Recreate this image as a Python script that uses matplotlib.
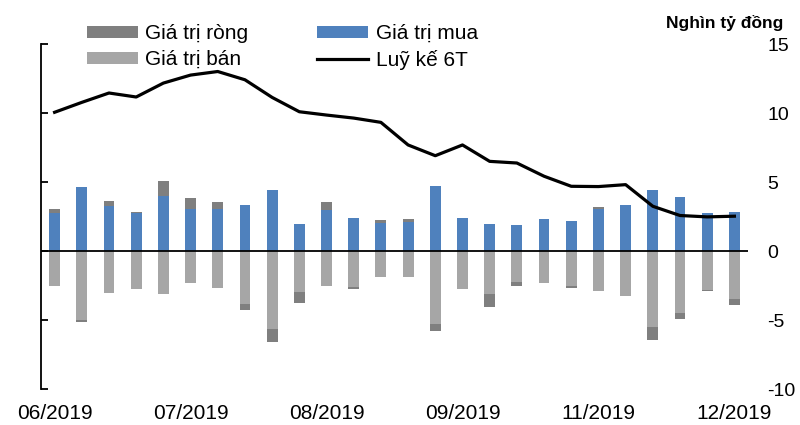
import matplotlib
matplotlib.use('Agg')
import matplotlib.pyplot as plt
import numpy as np

plt.rcParams['font.family'] = ['Liberation Sans', 'DejaVu Sans']
plt.rcParams['axes.unicode_minus'] = False

# weekly values, nghìn tỷ đồng
buy = [2.78, 4.69, 3.31, 2.78, 4.01, 3.07, 3.04, 3.33, 4.47, 1.98, 3.00, 2.39, 2.03,
       2.10, 4.71, 2.42, 2.00, 1.88, 2.32, 2.22, 3.04, 3.33, 4.42, 3.94, 2.78, 2.83]
sell = [-2.56, -4.98, -3.04, -2.73, -3.07, -2.32, -2.68, -3.86, -5.65, -2.95, -2.56, -2.61, -1.86,
        -1.84, -5.31, -2.71, -3.14, -2.27, -2.34, -2.56, -2.90, -3.24, -5.51, -4.52, -2.83, -3.50]
net = [0.29, -0.15, 0.36, 0.05, 1.06, 0.82, 0.51, -0.39, -0.94, -0.80, 0.56, -0.12, 0.24,
       0.27, -0.48, -0.05, -0.94, -0.22, 0.00, -0.10, 0.17, 0.05, -0.97, -0.43, -0.05, -0.43]
cum_6t = [10.08, 10.8, 11.48, 11.19, 12.2, 12.78, 13.04, 12.44, 11.16, 10.12, 9.88, 9.66, 9.35,
          7.71, 6.93, 7.71, 6.52, 6.4, 5.44, 4.71, 4.69, 4.83, 3.26, 2.59, 2.49, 2.54]
month_labels = ['06/2019', '07/2019', '08/2019', '09/2019', '11/2019', '12/2019']
month_pos = [0, 5, 10, 15, 20, 25]

c_net = '#7f7f7f'
c_buy = '#4f81bd'
c_sell = '#a6a6a6'

x = np.arange(len(buy))
buy = np.array(buy)
sell = np.array(sell)
net = np.array(net)
# net sits on top of buy when positive, under sell when negative
net_bottom = np.where(net >= 0, buy, sell)

fig = plt.figure(figsize=(8, 4.25), dpi=100)
ax = fig.add_axes([41 / 800, 1 - 389 / 425, 707 / 800, 344.5 / 425])

w = 0.4
h_net = ax.bar(x, net, w, bottom=net_bottom, color=c_net, zorder=2)
h_buy = ax.bar(x, buy, w, color=c_buy, zorder=2)
h_sell = ax.bar(x, sell, w, color=c_sell, zorder=2)
h_line, = ax.plot(x, cum_6t, color='black', lw=2.3, zorder=3)
ax.axhline(0, color='black', lw=1.3, zorder=4)

ax.set_xlim(-0.5, len(x) - 0.5)
ax.set_ylim(-10, 15)
ax.set_yticks(range(-10, 16, 5))
ax.tick_params(axis='y', left=True, right=False, labelleft=False, labelright=True,
               direction='in', length=5, width=1.3, labelsize=14, pad=14)
ax.set_xticks(month_pos)
ax.set_xticklabels(month_labels)
ax.tick_params(axis='x', length=0, labelsize=15, pad=11)
for s in ['top', 'right', 'bottom']:
    ax.spines[s].set_visible(False)
ax.spines['left'].set_linewidth(1.3)

fig.text(783 / 800, 1 - 23 / 425, 'Nghìn tỷ đồng', fontsize=12.5, fontweight='bold',
         ha='right', va='center')

fig.legend([h_net, h_sell, h_buy, h_line],
           ['Giá trị ròng', 'Giá trị bán', 'Giá trị mua', 'Luỹ kế 6T'],
           ncol=2, loc='upper left', bbox_to_anchor=(87 / 800, 1 - 24 / 425),
           frameon=False, fontsize=15, borderpad=0, borderaxespad=0,
           handlelength=2.45, handleheight=0.5, handletextpad=0.35,
           columnspacing=3.3, labelspacing=0.34)

plt.savefig('out.png', dpi=100)
